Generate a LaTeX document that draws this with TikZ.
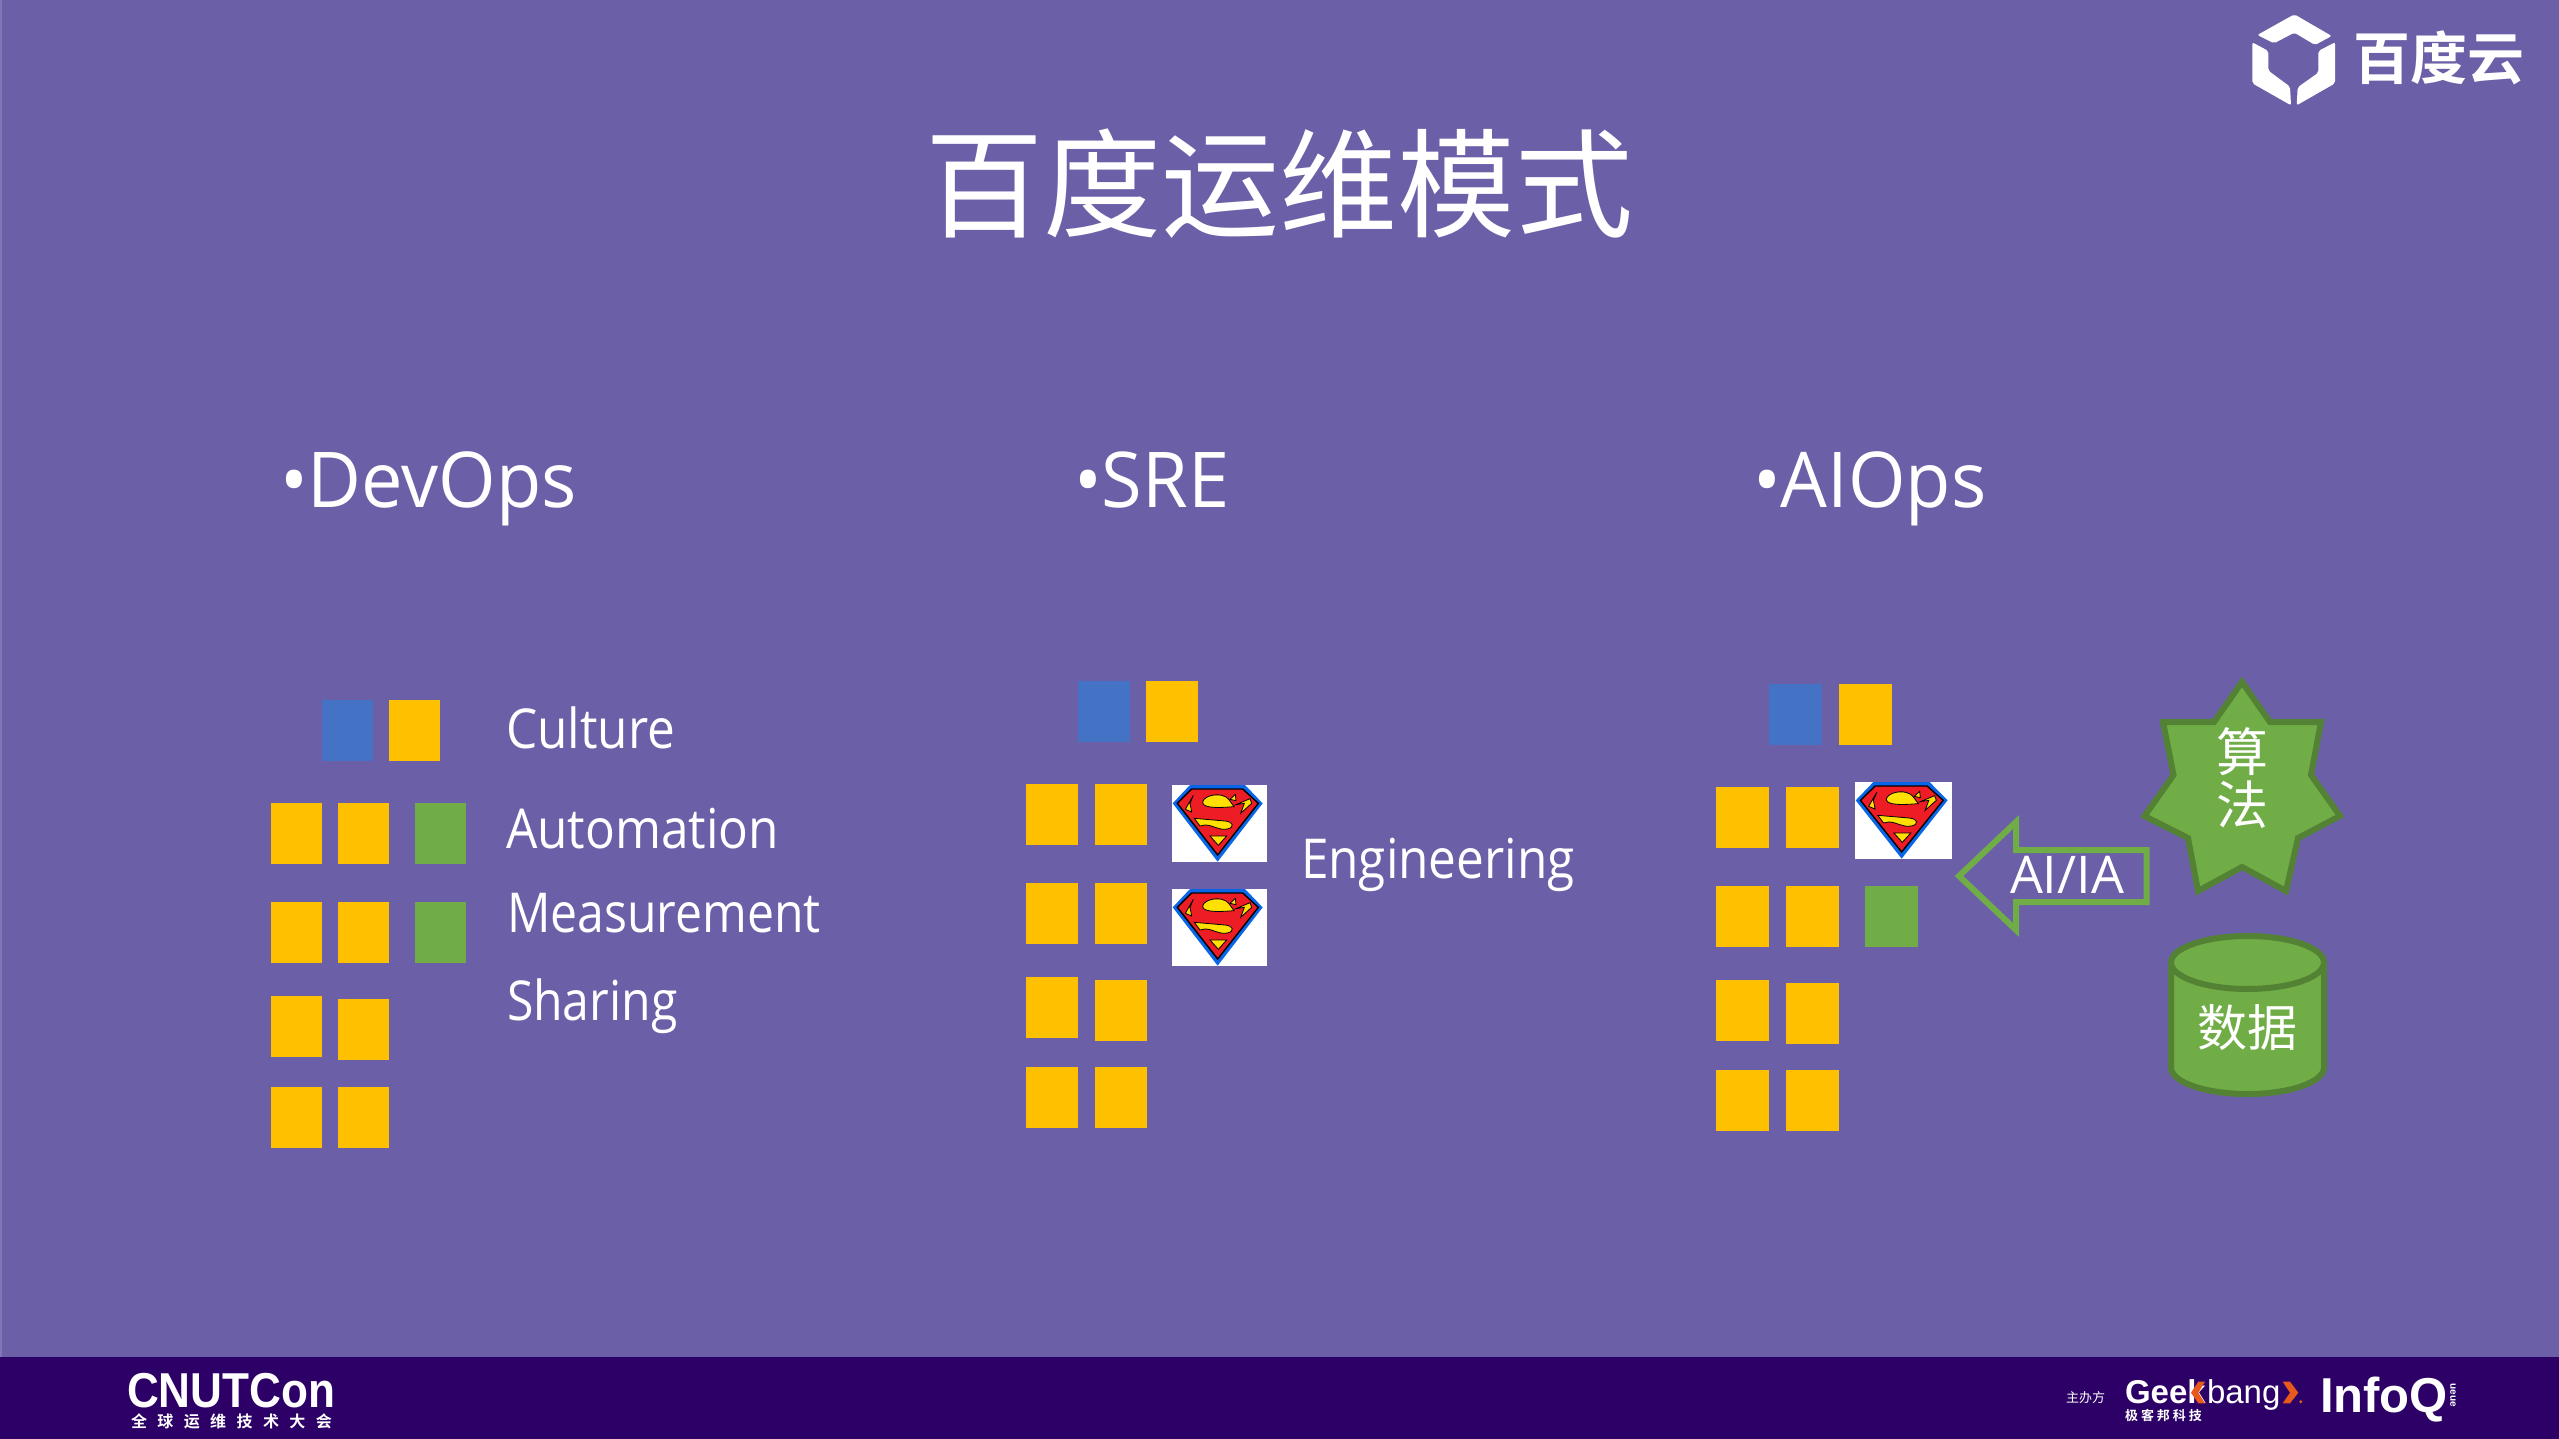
\documentclass[tikz,border=0pt]{standalone}
\usepackage{fontspec}
\setmainfont{Open Sans}
\newfontfamily\uifont[FakeStretch=0.9]{Open Sans}
\newfontfamily\headfont[FakeStretch=0.96]{Open Sans}
\newfontfamily\widefont[FakeStretch=1.0]{Open Sans}
\newfontfamily\narrowfont[FakeStretch=0.875]{Open Sans}
\newfontfamily\cjk{Noto Sans CJK SC}
\newfontfamily\cjkbold{Noto Sans CJK SC Bold}
\newfontfamily\cjkwide[LetterSpace=65]{Noto Sans CJK SC Bold}
\newfontfamily\cjkmid[LetterSpace=23]{Noto Sans CJK SC Bold}
\newfontfamily\logofont[FakeStretch=0.9]{Liberation Sans Bold}
\newfontfamily\logob{Liberation Sans Bold}
\newfontfamily\logor{Liberation Sans}
\definecolor{bg}{HTML}{6B60A8}
\definecolor{bar}{HTML}{2C0066}
\definecolor{edge}{HTML}{8077B6}
\definecolor{amber}{HTML}{FFC000}
\definecolor{sqblue}{HTML}{4472C4}
\definecolor{leaf}{HTML}{70AD47}
\definecolor{leafdark}{HTML}{548235}
\definecolor{orange}{HTML}{E8591C}
\definecolor{shblue}{HTML}{0A66E8}
\definecolor{shred}{HTML}{EE1C25}
\definecolor{shyellow}{HTML}{FFE000}
\newcommand{\px}[1]{\fontsize{\fpeval{#1/2}pt}{\fpeval{#1/2*1.1}pt}\selectfont}
\newcommand{\sq}[5]{\fill[#1] (#2,#3) rectangle (#4,#5);}
% x,y,w,h of the white tile
\newcommand{\shield}[4]{%
\begin{scope}[shift={(#1,#2)},xscale=#3/285,yscale=#4/231,shift={(-66,-45)}]
\fill[white] (66,45) rectangle (351,276);
\fill[shblue] (120,45)--(285,45)--(338,100)--(203,275)--(68,100)--cycle;
\fill[shred,draw=black,line width=0.7pt] (125,57)--(278,57)--(325,100)--(203,255)--(82,100)--cycle;
\fill[shyellow,draw=black,line width=0.4pt] (106,118)--(130,76)--(120,100)--(125,126)--cycle;
\fill[shyellow,draw=black,line width=0.4pt] (158,98) .. controls (158,82) and (190,70) .. (215,76) .. controls (235,80) and (238,92) .. (252,110) .. controls (225,112) and (160,118) .. (158,98) -- cycle;
\fill[shyellow,draw=black,line width=0.4pt] (240,88)--(256,73)--(258,92)--cycle;
\fill[shyellow,draw=black,line width=0.4pt] (272,130)--(283,100)--(258,104)--(300,86)--(305,100)--cycle;
\fill[shyellow,draw=black,line width=0.4pt] (133,145)--(225,153) .. controls (250,155) and (255,172) .. (232,177) .. controls (205,182) and (190,165) .. (165,165) -- (150,168)--cycle;
\fill[shyellow,draw=black,line width=0.4pt] (180,198)--(230,198)--(205,226)--cycle;
\end{scope}}
\tikzset{
  lbl/.style={inner sep=0pt,outer sep=0pt,anchor=base west,text=white},
  mid/.style={inner sep=0pt,outer sep=0pt,anchor=center,text=white},
  greenshape/.style={fill=leaf,draw=leafdark,line width=3pt,line join=miter},
}
\begin{document}
\begin{tikzpicture}[x=0.5pt,y=-0.5pt]
\useasboundingbox (0,0) rectangle (2559,1439);
\fill[bg] (0,0) rectangle (2559,1439);
\fill[edge] (0,0) rectangle (1.5,1357);
\fill[bar] (0,1357) rectangle (2559,1439);

% title
\node[mid] (title) at (1279,184) {\cjk\px{118}百度运维模式};

% baidu cloud logo
\begin{scope}[shift={(2200,0)},scale=1/3]
\fill[white,rounded corners=1pt] (283,43)--(395,108)--(345,135)--(283,98)--(222,130)--(172,105)--cycle;
\fill[white,rounded corners=1pt] (157,127)--(205,153)--(205,212)--(270,260)--(273,316)--(157,250)--cycle;
\fill[white,rounded corners=1pt] (405,127)--(405,250)--(290,316)--(293,262)--(355,218)--(355,153)--cycle;
\end{scope}
\node[mid] (cloud) at (2439,58) {\cjkbold\px{57}百度云};

% headings
\node[lbl] (h1) at (280,507) {\headfont\px{77}•DevOps};
\node[lbl] (h2) at (1074,507) {\headfont\px{77}•SRE};
\node[lbl] (h3) at (1753,507) {\headfont\px{77}•AIOps};

% DevOps column
\sq{sqblue}{322}{700}{373}{761}
\sq{amber}{389}{700}{440}{761}
\sq{amber}{271}{803}{322}{864}
\sq{amber}{338}{803}{389}{864}
\sq{leaf}{415}{803}{466}{864}
\sq{amber}{271}{902}{322}{963}
\sq{amber}{338}{902}{389}{963}
\sq{leaf}{415}{902}{466}{963}
\sq{amber}{271}{996}{322}{1057}
\sq{amber}{338}{999}{389}{1060}
\sq{amber}{271}{1087}{322}{1148}
\sq{amber}{338}{1087}{389}{1148}
\node[lbl] (t1) at (506,748) {\uifont\px{55}Culture};
\node[lbl] (t2) at (506,848) {\uifont\px{55}Automation};
\node[lbl] (t3) at (507,932) {\narrowfont\px{55}Measurement};
\node[lbl] (t4) at (507,1020) {\narrowfont\px{55}Sharing};

% SRE column
\sq{sqblue}{1078}{681}{1130}{742}
\sq{amber}{1146}{681}{1198}{742}
\sq{amber}{1026}{784}{1078}{845}
\sq{amber}{1095}{784}{1147}{845}
\sq{amber}{1026}{883}{1078}{944}
\sq{amber}{1095}{883}{1147}{944}
\sq{amber}{1026}{977}{1078}{1038}
\sq{amber}{1095}{980}{1147}{1041}
\sq{amber}{1026}{1067}{1078}{1128}
\sq{amber}{1095}{1067}{1147}{1128}
\shield{1172}{785}{95}{77}
\shield{1172}{889}{95}{77}
\node[lbl] (t5) at (1301,878) {\uifont\px{55}Engineering};

% AIOps column
\sq{sqblue}{1769}{684}{1822}{745}
\sq{amber}{1839}{684}{1892}{745}
\sq{amber}{1716}{787}{1769}{848}
\sq{amber}{1786}{787}{1839}{848}
\sq{amber}{1716}{886}{1769}{947}
\sq{amber}{1786}{886}{1839}{947}
\sq{leaf}{1865}{886}{1918}{947}
\sq{amber}{1716}{980}{1769}{1041}
\sq{amber}{1786}{983}{1839}{1044}
\sq{amber}{1716}{1070}{1769}{1131}
\sq{amber}{1786}{1070}{1839}{1131}
\shield{1855}{782}{97}{77}

% arrow
\draw[draw=leaf,line width=3pt,miter limit=10] (1959,876)--(2016,822)--(2016,850)--(2146.5,850)--(2146.5,902)--(2016,902)--(2016,930)--cycle;
\node[lbl,anchor=base] (ai) at (2067,893) {\widefont\px{52}AI/IA};

% star
\path[greenshape] (2242,682)--(2270,722)--(2321,722)--(2311,775)--(2340,816)--(2298,838)--(2286,891)--(2242,867)--(2198,891)--(2188,838)--(2144.5,816)--(2173.5,775)--(2163,722)--(2214,722)--cycle;
\node[mid] (s1) at (2242,752) {\cjk\px{52}算};
\node[mid] (s2) at (2242,805) {\cjk\px{52}法};

% data cylinder
\path[greenshape] (2171,962.5)--(2171,1067.5) .. controls (2171,1082.1) and (2205.25,1094) .. (2247.5,1094) .. controls (2289.75,1094) and (2324,1082.1) .. (2324,1067.5) -- (2324,962.5) .. controls (2324,947.9) and (2289.75,936) .. (2247.5,936) .. controls (2205.25,936) and (2171,947.9) .. (2171,962.5) -- cycle;
\draw[draw=leafdark,line width=3pt] (2171,962.5) .. controls (2171,977.1) and (2205.25,989) .. (2247.5,989) .. controls (2289.75,989) and (2324,977.1) .. (2324,962.5);
\node[mid] (db) at (2247,1028) {\cjk\px{50}数据};

% footer left
\node[lbl] (cn) at (127,1407) {\logofont\px{49}CNUTCon};
\node[mid,anchor=west] (cn2) at (131,1421) {\cjkwide\px{16}全球运维技术大会};

% footer right
\node[mid,anchor=west] (host) at (2066,1398) {\cjk\px{13}主办方};
\node[lbl] (geek) at (2125,1403) {\logob\px{33}Geek};
\node[lbl] (bang) at (2207,1403) {\logor\px{33}bang};
\fill[orange] (2205,1381.7)--(2198.3,1381.7)--(2191,1392.7)--(2198.3,1403.3)--(2205,1403.3)--(2198.3,1392.7)--cycle;
\fill[orange] (2282.7,1381.7)--(2290,1381.7)--(2298.3,1392.7)--(2290,1403.3)--(2282.7,1403.3)--(2290,1392.7)--cycle;
\fill[orange] (2300.7,1401.7) circle[radius=1.6];
\node[mid,anchor=west] (geek2) at (2125,1416) {\cjkmid\px{13}极客邦科技};
\node[lbl] (iq) at (2320,1412) {\logob\px{49}InfoQ};
\node[mid,rotate=-90] (ue) at (2453,1395) {\logob\px{10}ueue};
\end{tikzpicture}
\end{document}
